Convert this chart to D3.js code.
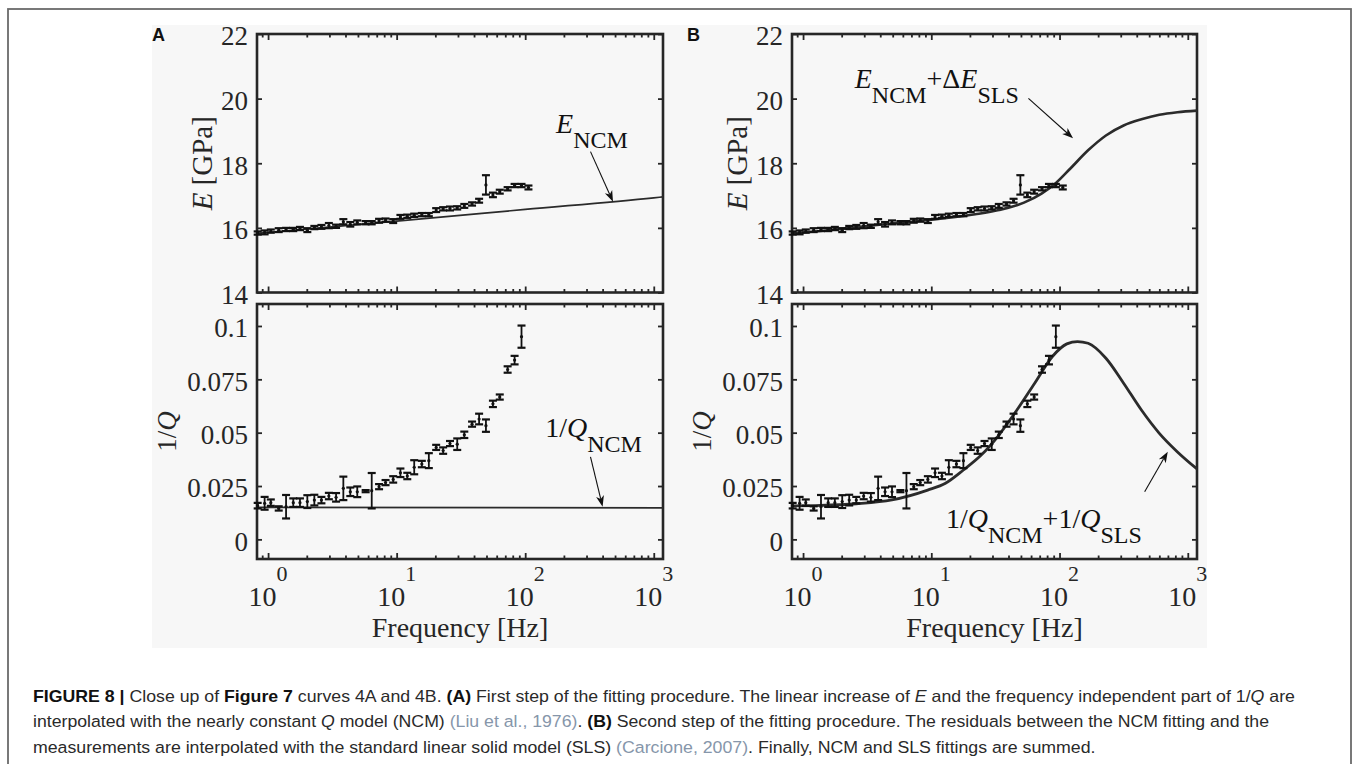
<!DOCTYPE html>
<html>
<head>
<meta charset="utf-8">
<script src="https://cdn.jsdelivr.net/npm/d3@7"></script>
<style>
  body { margin: 0; background: #ffffff; }
  svg { display: block; }
  text { white-space: pre; }
</style>
</head>
<body>
<svg id="fig" width="1355" height="764"></svg>
<script>
// ---- measured data: frequency [Hz], 1/Q and E [GPa] with error half-widths ----
const freqQ = [0.83, 0.94, 1.05, 1.21, 1.38, 1.57, 1.77, 2.02, 2.29, 2.6, 2.97, 3.38, 3.85, 4.36, 4.94,
  5.74, 6.4, 7.3, 8.2, 9.4, 10.7, 12.1, 13.7, 15.7, 17.8, 20.3, 23.0, 26.0, 29.6, 33.6, 38.6, 43.8,
  49.5, 56.1, 63.4, 73.0, 82.7, 93.6];
const invQ = [0.0158, 0.0169, 0.0172, 0.0145, 0.0153, 0.0172, 0.0172, 0.0177, 0.0184, 0.0184, 0.0203,
  0.0197, 0.0239, 0.0223, 0.0223, 0.0226, 0.0228, 0.0247, 0.0266, 0.0281, 0.0312, 0.0297, 0.0338,
  0.0353, 0.0369, 0.0431, 0.0416, 0.0449, 0.0446, 0.0490, 0.0540, 0.0564, 0.0533, 0.0635, 0.0667,
  0.0796, 0.0840, 0.0950];
const invQErr = [0.0013, 0.003, 0.0015, 0.001, 0.0055, 0.002, 0.002, 0.003, 0.0025, 0.0015, 0.0015,
  0.002, 0.0055, 0.002, 0.0025, 0.0005, 0.0083, 0.0012, 0.0012, 0.0015, 0.002, 0.0015, 0.0033,
  0.0015, 0.0035, 0.0012, 0.0015, 0.0012, 0.0027, 0.0015, 0.0012, 0.0025, 0.0029, 0.0015, 0.0012,
  0.0015, 0.002, 0.0052];

const freqE = [0.83, 0.94, 1.05, 1.21, 1.38, 1.57, 1.77, 2.02, 2.29, 2.6, 2.97, 3.38, 3.85, 4.36, 4.94,
  5.74, 6.4, 7.3, 8.2, 9.4, 10.7, 12.1, 13.7, 15.7, 17.8, 20.3, 23.0, 26.0, 29.6, 33.6, 38.6, 43.8,
  49.5, 56.1, 63.4, 73.0, 82.7, 93.6, 106];
const modE = [15.84, 15.86, 15.90, 15.93, 15.95, 15.95, 15.98, 15.93, 16.01, 16.03, 16.07, 16.05, 16.19,
  16.11, 16.17, 16.16, 16.16, 16.22, 16.24, 16.21, 16.34, 16.36, 16.39, 16.41, 16.41, 16.55, 16.59,
  16.60, 16.62, 16.68, 16.74, 16.84, 17.33, 17.02, 17.12, 17.21, 17.31, 17.31, 17.25];
const modEErr = [0.05, 0.06, 0.05, 0.06, 0.05, 0.05, 0.05, 0.06, 0.05, 0.06, 0.08, 0.05, 0.08, 0.07,
  0.06, 0.05, 0.05, 0.06, 0.05, 0.06, 0.06, 0.05, 0.05, 0.05, 0.05, 0.06, 0.05, 0.06, 0.05, 0.06, 0.05,
  0.06, 0.30, 0.07, 0.06, 0.05, 0.05, 0.05, 0.06];

// ---- fitted models ----
// nearly constant Q model (NCM)
const ncmEFreq = [0.82, 1, 10, 100, 1000, 1180];
const ncmE = [15.83, 15.86, 16.21, 16.57, 16.93, 16.96];
const ncmQFreq = [0.82, 1180];
const ncmQ = [0.0150, 0.0148];
// NCM + standard linear solid (SLS)
const slsEFreq = [0.82, 1.5, 3.6, 7, 12.9, 22, 33.7, 52.8, 72.4, 93.8, 121, 167, 230, 316, 435, 600, 830, 1180];
const slsE = [15.83, 15.92, 16.08, 16.19, 16.30, 16.42, 16.55, 16.78, 17.06, 17.39, 17.83, 18.40, 18.86,
  19.17, 19.36, 19.50, 19.58, 19.63];
const slsQFreq = [0.82, 1.37, 2.6, 4.93, 9.37, 12.9, 17.8, 24.5, 33.7, 46.5, 64, 88, 114, 138, 167, 230,
  316, 435, 600, 827, 1180];
const slsQ = [0.0157, 0.0159, 0.0167, 0.0185, 0.0231, 0.0263, 0.0325, 0.0395, 0.0489, 0.0606, 0.0732,
  0.0857, 0.0916, 0.0927, 0.0919, 0.0849, 0.0732, 0.0606, 0.0497, 0.0411, 0.0330];

// ---- axis ticks ----
const eTicks = [14, 16, 18, 20, 22];
const eTickLabels = ["14", "16", "18", "20", "22"];
const qTicks = [0, 0.025, 0.05, 0.075, 0.1];
const qTickLabels = ["0", "0.025", "0.05", "0.075", "0.1"];
const decadeTicks = [1, 10, 100, 1000];
const decadeExps = ["0", "1", "2", "3"];
const minorTicks = [0.9, 2, 3, 4, 5, 6, 7, 8, 9, 20, 30, 40, 50, 60, 70, 80, 90,
  200, 300, 400, 500, 600, 700, 800, 900];

// ---- styling ----
const SERIF = "'Liberation Serif','Times New Roman',Times,serif";
const SANS = "'Liberation Sans',Arial,Helvetica,sans-serif";
const INK = "#262626";

const svg = d3.select("#fig");

// page frame and figure background
svg.append("rect").attr("x", 8).attr("y", 9).attr("width", 1343).attr("height", 800)
  .attr("fill", "none").attr("stroke", "#6a6a6a").attr("stroke-width", 1.8);
svg.append("rect").attr("x", 152).attr("y", 25).attr("width", 1055).attr("height", 623)
  .attr("fill", "#f7f7f7");

const freqDomain = [0.82, 1180];
const cols = [
  { x0: 257, x1: 663, tag: "A" },
  { x0: 792, x1: 1197, tag: "B" }
];
const rowE = { y0: 34, y1: 292.5 };
const rowQ = { y0: 304, y1: 559 };

function drawBox(g, x, y, yTicks, yLabels) {
  const [x0, x1] = x.range();
  const [yb, yt] = y.range();
  const tickAxis = (gen, tx, ty) => g.append("g")
    .attr("transform", `translate(${tx},${ty})`)
    .call(gen)
    .call(s => {
      s.select(".domain").remove();
      s.selectAll("text").remove();
      s.selectAll("line").attr("stroke", INK).attr("stroke-width", 1.8);
    });
  const minors = minorTicks.filter(v => v > freqDomain[0]);
  tickAxis(d3.axisBottom(x).tickValues(decadeTicks).tickSize(-6), 0, yb);
  tickAxis(d3.axisBottom(x).tickValues(minors).tickSize(-3.5), 0, yb);
  tickAxis(d3.axisTop(x).tickValues(decadeTicks).tickSize(-6), 0, yt);
  tickAxis(d3.axisTop(x).tickValues(minors).tickSize(-3.5), 0, yt);
  tickAxis(d3.axisLeft(y).tickValues(yTicks).tickSize(-5), x0, 0);
  tickAxis(d3.axisRight(y).tickValues(yTicks).tickSize(-5), x1, 0);

  g.append("rect").attr("x", x0).attr("y", yt).attr("width", x1 - x0).attr("height", yb - yt)
    .attr("fill", "none").attr("stroke", INK).attr("stroke-width", 2.6);

  g.append("g").selectAll("text").data(yTicks).join("text")
    .attr("x", x0 - 9).attr("y", d => y(d)).attr("dy", "0.42em")
    .attr("text-anchor", "end").attr("font-family", SERIF).attr("font-size", 27).attr("fill", INK)
    .text((d, i) => yLabels[i]);
}

function drawErrorBars(g, x, y, freqs, vals, errs) {
  const pts = freqs.map((f, i) => ({ f, v: vals[i], e: errs[i] }));
  const eb = g.append("g").attr("stroke", "#111").attr("fill", "#111");
  eb.selectAll("line.stem").data(pts).join("line").attr("class", "stem")
    .attr("x1", d => x(d.f)).attr("x2", d => x(d.f))
    .attr("y1", d => y(d.v - d.e)).attr("y2", d => y(d.v + d.e)).attr("stroke-width", 1.8);
  eb.selectAll("line.lo").data(pts).join("line").attr("class", "lo")
    .attr("x1", d => x(d.f) - 4).attr("x2", d => x(d.f) + 4)
    .attr("y1", d => y(d.v - d.e)).attr("y2", d => y(d.v - d.e)).attr("stroke-width", 2.2);
  eb.selectAll("line.hi").data(pts).join("line").attr("class", "hi")
    .attr("x1", d => x(d.f) - 4).attr("x2", d => x(d.f) + 4)
    .attr("y1", d => y(d.v + d.e)).attr("y2", d => y(d.v + d.e)).attr("stroke-width", 2.2);
  eb.selectAll("circle").data(pts).join("circle")
    .attr("cx", d => x(d.f)).attr("cy", d => y(d.v)).attr("r", 1.6).attr("stroke", "none");
}

function drawCurve(g, x, y, freqs, vals, width) {
  const line = d3.line().x(d => x(d[0])).y(d => y(d[1])).curve(d3.curveMonotoneX);
  g.append("path").datum(freqs.map((f, i) => [f, vals[i]]))
    .attr("d", line).attr("fill", "none").attr("stroke", "#2b2b2b")
    .attr("stroke-width", width).attr("stroke-linejoin", "round");
}

function drawArrow(g, x1, y1, x2, y2) {
  const ang = Math.atan2(y2 - y1, x2 - x1);
  const len = 11, half = 4, notch = 8;
  const c = Math.cos(ang), s = Math.sin(ang);
  const bx = x2 - len * c, by = y2 - len * s;
  const nx = x2 - notch * c, ny = y2 - notch * s;
  g.append("line").attr("x1", x1).attr("y1", y1).attr("x2", nx).attr("y2", ny)
    .attr("stroke", "#111").attr("stroke-width", 1.1);
  g.append("path")
    .attr("d", `M${x2},${y2}L${bx - half * s},${by + half * c}L${nx},${ny}L${bx + half * s},${by - half * c}Z`)
    .attr("fill", "#111");
}

// label with subscripts: parts = [[text, kind]], kind: "" roman, "i" italic, "sub" subscript
function mathLabel(g, px, py, parts) {
  const t = g.append("text").attr("x", px).attr("y", py)
    .attr("font-family", SERIF).attr("font-size", 28).attr("fill", "#111");
  let level = 0;
  parts.forEach(([txt, kind]) => {
    const sp = t.append("tspan").text(txt);
    const want = kind === "sub" ? 15 : 0;
    if (want !== level) { sp.attr("dy", want - level); level = want; }
    if (kind === "i") sp.attr("font-style", "italic");
    if (kind === "sub") sp.attr("font-size", 24);
  });
  return t;
}

function drawFreqAxis(g, x, yb) {
  const lab = g.append("g").attr("font-family", SERIF).attr("fill", INK);
  decadeTicks.forEach((v, i) => {
    const t = lab.append("text").attr("x", x(v)).attr("y", yb + 47)
      .attr("text-anchor", "middle").attr("font-size", 28);
    t.append("tspan").text("10");
    t.append("tspan").attr("dy", -25).attr("font-size", 22).text(decadeExps[i]);
  });
  const [x0, x1] = x.range();
  lab.append("text").attr("x", (x0 + x1) / 2).attr("y", yb + 78)
    .attr("text-anchor", "middle").attr("font-size", 28).text("Frequency [Hz]");
}

function rotatedLabel(g, cx, cy, parts, size) {
  const t = g.append("text").attr("transform", `translate(${cx},${cy}) rotate(-90)`)
    .attr("text-anchor", "middle").attr("dy", "0.35em")
    .attr("font-family", SERIF).attr("font-size", size).attr("fill", INK);
  parts.forEach(([txt, kind]) => {
    const sp = t.append("tspan").text(txt);
    if (kind === "i") sp.attr("font-style", "italic");
  });
}

cols.forEach((col, ci) => {
  const g = svg.append("g");
  const x = d3.scaleLog().domain(freqDomain).range([col.x0, col.x1]);
  const yE = d3.scaleLinear().domain([14, 22]).range([rowE.y1, rowE.y0]);
  const yQ = d3.scaleLinear().domain([-0.0092, 0.1103]).range([rowQ.y1, rowQ.y0]);

  drawBox(g, x, yE, eTicks, eTickLabels);
  drawBox(g, x, yQ, qTicks, qTickLabels);

  if (ci === 0) {
    drawCurve(g, x, yE, ncmEFreq, ncmE, 1.7);
    drawCurve(g, x, yQ, ncmQFreq, ncmQ, 1.7);
  } else {
    drawCurve(g, x, yE, slsEFreq, slsE, 2.6);
    drawCurve(g, x, yQ, slsQFreq, slsQ, 2.8);
  }
  drawErrorBars(g, x, yE, freqE, modE, modEErr);
  drawErrorBars(g, x, yQ, freqQ, invQ, invQErr);

  drawFreqAxis(g, x, rowQ.y1);
  rotatedLabel(g, col.x0 - 55, (rowE.y0 + rowE.y1) / 2, [["E", "i"], [" [GPa]", ""]], 29);
  rotatedLabel(g, col.x0 - 90, (rowQ.y0 + rowQ.y1) / 2, [["1/", ""], ["Q", "i"]], 27);

  g.append("text").attr("x", col.x0 - 105).attr("y", 41)
    .attr("font-family", SANS).attr("font-weight", "bold").attr("font-size", 18).attr("fill", "#111")
    .text(col.tag);

  // model annotations (anchored in data units)
  if (ci === 0) {
    mathLabel(g, x(174), yE(18.94), [["E", "i"], ["NCM", "sub"]]);
    drawArrow(g, x(322), yE(18.36), x(482), yE(16.81));
    mathLabel(g, x(143), yQ(0.0481), [["1/", ""], ["Q", "i"], ["NCM", "sub"]]);
    drawArrow(g, x(322), yQ(0.0387), x(400), yQ(0.0153));
  } else {
    mathLabel(g, x(2.53), yE(20.33), [["E", "i"], ["NCM", "sub"], ["+\u0394", ""], ["E", "i"], ["SLS", "sub"]]);
    drawArrow(g, x(57.2), yE(20.01), x(127.5), yE(18.77));
    mathLabel(g, x(13.0), yQ(0.0052), [["1/", ""], ["Q", "i"], ["NCM", "sub"], ["+1/", ""], ["Q", "i"], ["SLS", "sub"]]);
    drawArrow(g, x(461), yQ(0.0223), x(698), yQ(0.0411));
  }
});

// ---- caption ----
const captionLines = [
  [["FIGURE 8 | ", "b"], ["Close up of ", ""], ["Figure 7", "b"], [" curves 4A and 4B. ", ""], ["(A)", "b"],
   [" First step of the fitting procedure. The linear increase of ", ""], ["E", "i"],
   [" and the frequency independent part of 1/", ""], ["Q", "i"], [" are", ""]],
  [["interpolated with the nearly constant ", ""], ["Q", "i"], [" model (NCM) ", ""],
   ["(Liu et al., 1976)", "l"], [". ", ""], ["(B)", "b"],
   [" Second step of the fitting procedure. The residuals between the NCM fitting and the", ""]],
  [["measurements are interpolated with the standard linear solid model (SLS) ", ""],
   ["(Carcione, 2007)", "l"], [". Finally, NCM and SLS fittings are summed.", ""]]
];
const captionBase = [701.5, 727, 752.5];
const captionRight = [1296, 1270, 1097];
const captionLeft = 33;

captionLines.forEach((parts, li) => {
  const g = svg.append("g");
  const t = g.append("text").attr("x", 0).attr("y", 0)
    .attr("font-family", SANS).attr("font-size", 16.5).attr("fill", "#2a2a2a");
  parts.forEach(([txt, kind]) => {
    const sp = t.append("tspan").text(txt);
    if (kind === "b") sp.attr("font-weight", "bold").attr("fill", "#111");
    if (kind === "i") sp.attr("font-style", "italic");
    if (kind === "l") sp.attr("fill", "#8696aa");
  });
  const w = t.node().getComputedTextLength();
  let sx = (captionRight[li] - captionLeft) / w;
  if (!(sx > 0.85 && sx < 1.2)) sx = 1;
  g.attr("transform", `translate(${captionLeft},${captionBase[li]}) scale(${sx},1)`);
});
</script>
</body>
</html>
